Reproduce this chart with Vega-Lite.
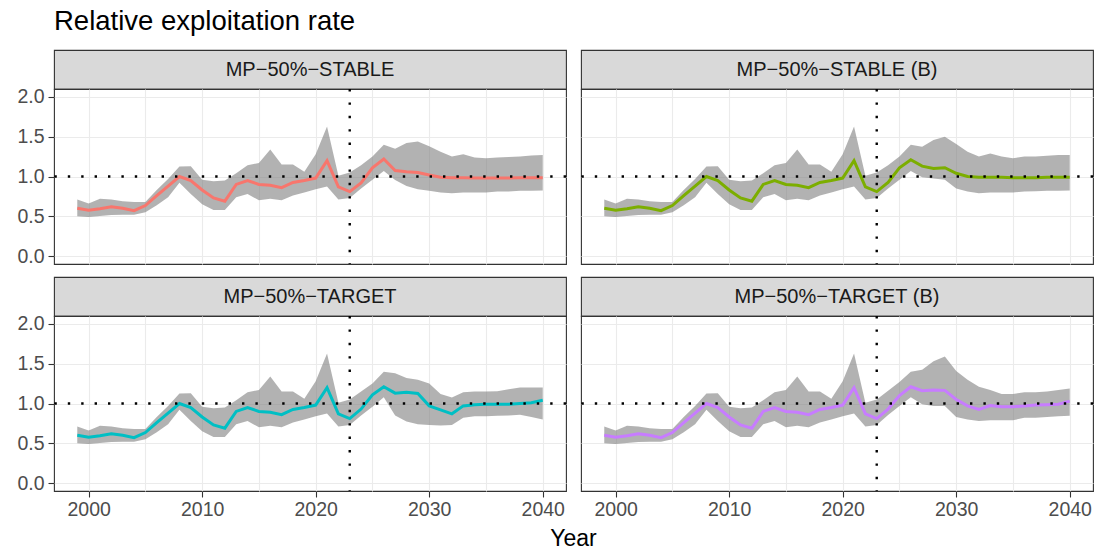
{
  "$schema": "https://vega.github.io/schema/vega-lite/v6.json",
  "padding": {"left": 16, "top": 7, "right": 7, "bottom": 4},
  "spacing": 9,
  "title": {"text": "Relative exploitation rate", "anchor": "start", "frame": "group", "fontSize": 27.5, "fontWeight": "normal", "color": "#000000", "font": "Liberation Sans", "offset": 14},
  "datasets": {
    "d": [
      {"p":"MP−50%−STABLE","year":1999,"med":0.60,"lo":0.50,"hi":0.71},
      {"p":"MP−50%−STABLE","year":2000,"med":0.575,"lo":0.49,"hi":0.66},
      {"p":"MP−50%−STABLE","year":2001,"med":0.595,"lo":0.505,"hi":0.72},
      {"p":"MP−50%−STABLE","year":2002,"med":0.62,"lo":0.515,"hi":0.71},
      {"p":"MP−50%−STABLE","year":2003,"med":0.60,"lo":0.52,"hi":0.69},
      {"p":"MP−50%−STABLE","year":2004,"med":0.57,"lo":0.52,"hi":0.68},
      {"p":"MP−50%−STABLE","year":2005,"med":0.635,"lo":0.55,"hi":0.68},
      {"p":"MP−50%−STABLE","year":2006,"med":0.76,"lo":0.64,"hi":0.83},
      {"p":"MP−50%−STABLE","year":2007,"med":0.88,"lo":0.74,"hi":0.97},
      {"p":"MP−50%−STABLE","year":2008,"med":1.00,"lo":0.92,"hi":1.125},
      {"p":"MP−50%−STABLE","year":2009,"med":0.95,"lo":0.78,"hi":1.13},
      {"p":"MP−50%−STABLE","year":2010,"med":0.83,"lo":0.65,"hi":0.96},
      {"p":"MP−50%−STABLE","year":2011,"med":0.73,"lo":0.58,"hi":0.94},
      {"p":"MP−50%−STABLE","year":2012,"med":0.69,"lo":0.58,"hi":0.95},
      {"p":"MP−50%−STABLE","year":2013,"med":0.90,"lo":0.74,"hi":1.04},
      {"p":"MP−50%−STABLE","year":2014,"med":0.95,"lo":0.78,"hi":1.14},
      {"p":"MP−50%−STABLE","year":2015,"med":0.90,"lo":0.70,"hi":1.17},
      {"p":"MP−50%−STABLE","year":2016,"med":0.89,"lo":0.72,"hi":1.34},
      {"p":"MP−50%−STABLE","year":2017,"med":0.86,"lo":0.70,"hi":1.15},
      {"p":"MP−50%−STABLE","year":2018,"med":0.925,"lo":0.76,"hi":1.15},
      {"p":"MP−50%−STABLE","year":2019,"med":0.95,"lo":0.80,"hi":1.06},
      {"p":"MP−50%−STABLE","year":2020,"med":0.98,"lo":0.84,"hi":1.28},
      {"p":"MP−50%−STABLE","year":2021,"med":1.20,"lo":0.875,"hi":1.63},
      {"p":"MP−50%−STABLE","year":2022,"med":0.87,"lo":0.71,"hi":1.01},
      {"p":"MP−50%−STABLE","year":2023,"med":0.81,"lo":0.73,"hi":1.05},
      {"p":"MP−50%−STABLE","year":2024,"med":0.92,"lo":0.85,"hi":1.14},
      {"p":"MP−50%−STABLE","year":2025,"med":1.11,"lo":0.96,"hi":1.25},
      {"p":"MP−50%−STABLE","year":2026,"med":1.22,"lo":1.07,"hi":1.40},
      {"p":"MP−50%−STABLE","year":2027,"med":1.075,"lo":0.955,"hi":1.35},
      {"p":"MP−50%−STABLE","year":2028,"med":1.06,"lo":0.88,"hi":1.42},
      {"p":"MP−50%−STABLE","year":2029,"med":1.05,"lo":0.84,"hi":1.44},
      {"p":"MP−50%−STABLE","year":2030,"med":1.02,"lo":0.82,"hi":1.38},
      {"p":"MP−50%−STABLE","year":2031,"med":0.99,"lo":0.80,"hi":1.31},
      {"p":"MP−50%−STABLE","year":2032,"med":0.985,"lo":0.79,"hi":1.25},
      {"p":"MP−50%−STABLE","year":2033,"med":0.985,"lo":0.80,"hi":1.28},
      {"p":"MP−50%−STABLE","year":2034,"med":0.98,"lo":0.80,"hi":1.24},
      {"p":"MP−50%−STABLE","year":2035,"med":0.98,"lo":0.80,"hi":1.23},
      {"p":"MP−50%−STABLE","year":2036,"med":0.98,"lo":0.81,"hi":1.24},
      {"p":"MP−50%−STABLE","year":2037,"med":0.98,"lo":0.81,"hi":1.245},
      {"p":"MP−50%−STABLE","year":2038,"med":0.985,"lo":0.82,"hi":1.25},
      {"p":"MP−50%−STABLE","year":2039,"med":0.985,"lo":0.82,"hi":1.265},
      {"p":"MP−50%−STABLE","year":2040,"med":0.985,"lo":0.825,"hi":1.27},

      {"p":"MP−50%−STABLE (B)","year":1999,"med":0.60,"lo":0.50,"hi":0.71},
      {"p":"MP−50%−STABLE (B)","year":2000,"med":0.575,"lo":0.49,"hi":0.66},
      {"p":"MP−50%−STABLE (B)","year":2001,"med":0.595,"lo":0.505,"hi":0.72},
      {"p":"MP−50%−STABLE (B)","year":2002,"med":0.62,"lo":0.515,"hi":0.71},
      {"p":"MP−50%−STABLE (B)","year":2003,"med":0.60,"lo":0.52,"hi":0.69},
      {"p":"MP−50%−STABLE (B)","year":2004,"med":0.57,"lo":0.52,"hi":0.68},
      {"p":"MP−50%−STABLE (B)","year":2005,"med":0.635,"lo":0.55,"hi":0.68},
      {"p":"MP−50%−STABLE (B)","year":2006,"med":0.76,"lo":0.64,"hi":0.83},
      {"p":"MP−50%−STABLE (B)","year":2007,"med":0.88,"lo":0.74,"hi":0.97},
      {"p":"MP−50%−STABLE (B)","year":2008,"med":1.00,"lo":0.92,"hi":1.125},
      {"p":"MP−50%−STABLE (B)","year":2009,"med":0.95,"lo":0.78,"hi":1.13},
      {"p":"MP−50%−STABLE (B)","year":2010,"med":0.83,"lo":0.65,"hi":0.96},
      {"p":"MP−50%−STABLE (B)","year":2011,"med":0.73,"lo":0.58,"hi":0.94},
      {"p":"MP−50%−STABLE (B)","year":2012,"med":0.69,"lo":0.58,"hi":0.95},
      {"p":"MP−50%−STABLE (B)","year":2013,"med":0.90,"lo":0.74,"hi":1.04},
      {"p":"MP−50%−STABLE (B)","year":2014,"med":0.95,"lo":0.78,"hi":1.14},
      {"p":"MP−50%−STABLE (B)","year":2015,"med":0.90,"lo":0.70,"hi":1.17},
      {"p":"MP−50%−STABLE (B)","year":2016,"med":0.89,"lo":0.72,"hi":1.34},
      {"p":"MP−50%−STABLE (B)","year":2017,"med":0.86,"lo":0.70,"hi":1.15},
      {"p":"MP−50%−STABLE (B)","year":2018,"med":0.925,"lo":0.76,"hi":1.15},
      {"p":"MP−50%−STABLE (B)","year":2019,"med":0.95,"lo":0.80,"hi":1.06},
      {"p":"MP−50%−STABLE (B)","year":2020,"med":0.98,"lo":0.84,"hi":1.28},
      {"p":"MP−50%−STABLE (B)","year":2021,"med":1.20,"lo":0.875,"hi":1.63},
      {"p":"MP−50%−STABLE (B)","year":2022,"med":0.87,"lo":0.71,"hi":1.01},
      {"p":"MP−50%−STABLE (B)","year":2023,"med":0.81,"lo":0.73,"hi":1.05},
      {"p":"MP−50%−STABLE (B)","year":2024,"med":0.925,"lo":0.85,"hi":1.14},
      {"p":"MP−50%−STABLE (B)","year":2025,"med":1.11,"lo":0.96,"hi":1.25},
      {"p":"MP−50%−STABLE (B)","year":2026,"med":1.21,"lo":1.07,"hi":1.40},
      {"p":"MP−50%−STABLE (B)","year":2027,"med":1.13,"lo":0.99,"hi":1.375},
      {"p":"MP−50%−STABLE (B)","year":2028,"med":1.10,"lo":0.975,"hi":1.46},
      {"p":"MP−50%−STABLE (B)","year":2029,"med":1.11,"lo":0.96,"hi":1.50},
      {"p":"MP−50%−STABLE (B)","year":2030,"med":1.04,"lo":0.85,"hi":1.41},
      {"p":"MP−50%−STABLE (B)","year":2031,"med":1.00,"lo":0.81,"hi":1.31},
      {"p":"MP−50%−STABLE (B)","year":2032,"med":0.99,"lo":0.79,"hi":1.25},
      {"p":"MP−50%−STABLE (B)","year":2033,"med":0.99,"lo":0.80,"hi":1.29},
      {"p":"MP−50%−STABLE (B)","year":2034,"med":0.99,"lo":0.80,"hi":1.25},
      {"p":"MP−50%−STABLE (B)","year":2035,"med":0.985,"lo":0.80,"hi":1.23},
      {"p":"MP−50%−STABLE (B)","year":2036,"med":0.985,"lo":0.81,"hi":1.25},
      {"p":"MP−50%−STABLE (B)","year":2037,"med":0.985,"lo":0.815,"hi":1.25},
      {"p":"MP−50%−STABLE (B)","year":2038,"med":0.99,"lo":0.82,"hi":1.26},
      {"p":"MP−50%−STABLE (B)","year":2039,"med":0.99,"lo":0.82,"hi":1.27},
      {"p":"MP−50%−STABLE (B)","year":2040,"med":0.99,"lo":0.825,"hi":1.27},

      {"p":"MP−50%−TARGET","year":1999,"med":0.60,"lo":0.50,"hi":0.71},
      {"p":"MP−50%−TARGET","year":2000,"med":0.575,"lo":0.49,"hi":0.66},
      {"p":"MP−50%−TARGET","year":2001,"med":0.595,"lo":0.505,"hi":0.72},
      {"p":"MP−50%−TARGET","year":2002,"med":0.62,"lo":0.515,"hi":0.71},
      {"p":"MP−50%−TARGET","year":2003,"med":0.60,"lo":0.52,"hi":0.69},
      {"p":"MP−50%−TARGET","year":2004,"med":0.57,"lo":0.52,"hi":0.68},
      {"p":"MP−50%−TARGET","year":2005,"med":0.635,"lo":0.55,"hi":0.68},
      {"p":"MP−50%−TARGET","year":2006,"med":0.76,"lo":0.64,"hi":0.83},
      {"p":"MP−50%−TARGET","year":2007,"med":0.88,"lo":0.74,"hi":0.97},
      {"p":"MP−50%−TARGET","year":2008,"med":1.00,"lo":0.92,"hi":1.125},
      {"p":"MP−50%−TARGET","year":2009,"med":0.95,"lo":0.78,"hi":1.13},
      {"p":"MP−50%−TARGET","year":2010,"med":0.83,"lo":0.65,"hi":0.96},
      {"p":"MP−50%−TARGET","year":2011,"med":0.73,"lo":0.58,"hi":0.94},
      {"p":"MP−50%−TARGET","year":2012,"med":0.69,"lo":0.58,"hi":0.95},
      {"p":"MP−50%−TARGET","year":2013,"med":0.90,"lo":0.74,"hi":1.04},
      {"p":"MP−50%−TARGET","year":2014,"med":0.95,"lo":0.78,"hi":1.14},
      {"p":"MP−50%−TARGET","year":2015,"med":0.90,"lo":0.70,"hi":1.17},
      {"p":"MP−50%−TARGET","year":2016,"med":0.89,"lo":0.72,"hi":1.34},
      {"p":"MP−50%−TARGET","year":2017,"med":0.86,"lo":0.70,"hi":1.15},
      {"p":"MP−50%−TARGET","year":2018,"med":0.925,"lo":0.76,"hi":1.15},
      {"p":"MP−50%−TARGET","year":2019,"med":0.95,"lo":0.80,"hi":1.06},
      {"p":"MP−50%−TARGET","year":2020,"med":0.98,"lo":0.84,"hi":1.28},
      {"p":"MP−50%−TARGET","year":2021,"med":1.20,"lo":0.875,"hi":1.63},
      {"p":"MP−50%−TARGET","year":2022,"med":0.87,"lo":0.71,"hi":1.01},
      {"p":"MP−50%−TARGET","year":2023,"med":0.81,"lo":0.73,"hi":1.05},
      {"p":"MP−50%−TARGET","year":2024,"med":0.93,"lo":0.85,"hi":1.15},
      {"p":"MP−50%−TARGET","year":2025,"med":1.11,"lo":0.96,"hi":1.25},
      {"p":"MP−50%−TARGET","year":2026,"med":1.21,"lo":1.08,"hi":1.40},
      {"p":"MP−50%−TARGET","year":2027,"med":1.13,"lo":0.85,"hi":1.38},
      {"p":"MP−50%−TARGET","year":2028,"med":1.14,"lo":0.775,"hi":1.32},
      {"p":"MP−50%−TARGET","year":2029,"med":1.125,"lo":0.74,"hi":1.30},
      {"p":"MP−50%−TARGET","year":2030,"med":0.97,"lo":0.73,"hi":1.25},
      {"p":"MP−50%−TARGET","year":2031,"med":0.92,"lo":0.725,"hi":1.12},
      {"p":"MP−50%−TARGET","year":2032,"med":0.87,"lo":0.73,"hi":1.075},
      {"p":"MP−50%−TARGET","year":2033,"med":0.97,"lo":0.82,"hi":1.14},
      {"p":"MP−50%−TARGET","year":2034,"med":0.985,"lo":0.84,"hi":1.15},
      {"p":"MP−50%−TARGET","year":2035,"med":0.99,"lo":0.84,"hi":1.15},
      {"p":"MP−50%−TARGET","year":2036,"med":0.99,"lo":0.845,"hi":1.155},
      {"p":"MP−50%−TARGET","year":2037,"med":0.99,"lo":0.85,"hi":1.18},
      {"p":"MP−50%−TARGET","year":2038,"med":1.00,"lo":0.86,"hi":1.20},
      {"p":"MP−50%−TARGET","year":2039,"med":1.01,"lo":0.83,"hi":1.20},
      {"p":"MP−50%−TARGET","year":2040,"med":1.04,"lo":0.80,"hi":1.20},

      {"p":"MP−50%−TARGET (B)","year":1999,"med":0.60,"lo":0.50,"hi":0.71},
      {"p":"MP−50%−TARGET (B)","year":2000,"med":0.575,"lo":0.49,"hi":0.66},
      {"p":"MP−50%−TARGET (B)","year":2001,"med":0.595,"lo":0.505,"hi":0.72},
      {"p":"MP−50%−TARGET (B)","year":2002,"med":0.62,"lo":0.515,"hi":0.71},
      {"p":"MP−50%−TARGET (B)","year":2003,"med":0.60,"lo":0.52,"hi":0.69},
      {"p":"MP−50%−TARGET (B)","year":2004,"med":0.57,"lo":0.52,"hi":0.68},
      {"p":"MP−50%−TARGET (B)","year":2005,"med":0.635,"lo":0.55,"hi":0.68},
      {"p":"MP−50%−TARGET (B)","year":2006,"med":0.76,"lo":0.64,"hi":0.83},
      {"p":"MP−50%−TARGET (B)","year":2007,"med":0.88,"lo":0.74,"hi":0.97},
      {"p":"MP−50%−TARGET (B)","year":2008,"med":1.00,"lo":0.92,"hi":1.125},
      {"p":"MP−50%−TARGET (B)","year":2009,"med":0.95,"lo":0.78,"hi":1.13},
      {"p":"MP−50%−TARGET (B)","year":2010,"med":0.83,"lo":0.65,"hi":0.96},
      {"p":"MP−50%−TARGET (B)","year":2011,"med":0.73,"lo":0.58,"hi":0.94},
      {"p":"MP−50%−TARGET (B)","year":2012,"med":0.69,"lo":0.58,"hi":0.95},
      {"p":"MP−50%−TARGET (B)","year":2013,"med":0.90,"lo":0.74,"hi":1.04},
      {"p":"MP−50%−TARGET (B)","year":2014,"med":0.95,"lo":0.78,"hi":1.14},
      {"p":"MP−50%−TARGET (B)","year":2015,"med":0.90,"lo":0.70,"hi":1.17},
      {"p":"MP−50%−TARGET (B)","year":2016,"med":0.89,"lo":0.72,"hi":1.34},
      {"p":"MP−50%−TARGET (B)","year":2017,"med":0.86,"lo":0.70,"hi":1.15},
      {"p":"MP−50%−TARGET (B)","year":2018,"med":0.925,"lo":0.76,"hi":1.15},
      {"p":"MP−50%−TARGET (B)","year":2019,"med":0.95,"lo":0.80,"hi":1.06},
      {"p":"MP−50%−TARGET (B)","year":2020,"med":0.98,"lo":0.84,"hi":1.28},
      {"p":"MP−50%−TARGET (B)","year":2021,"med":1.20,"lo":0.875,"hi":1.63},
      {"p":"MP−50%−TARGET (B)","year":2022,"med":0.87,"lo":0.71,"hi":1.01},
      {"p":"MP−50%−TARGET (B)","year":2023,"med":0.81,"lo":0.73,"hi":1.05},
      {"p":"MP−50%−TARGET (B)","year":2024,"med":0.93,"lo":0.855,"hi":1.16},
      {"p":"MP−50%−TARGET (B)","year":2025,"med":1.10,"lo":0.97,"hi":1.27},
      {"p":"MP−50%−TARGET (B)","year":2026,"med":1.21,"lo":1.08,"hi":1.40},
      {"p":"MP−50%−TARGET (B)","year":2027,"med":1.16,"lo":0.99,"hi":1.425},
      {"p":"MP−50%−TARGET (B)","year":2028,"med":1.17,"lo":0.97,"hi":1.53},
      {"p":"MP−50%−TARGET (B)","year":2029,"med":1.165,"lo":0.97,"hi":1.59},
      {"p":"MP−50%−TARGET (B)","year":2030,"med":1.05,"lo":0.83,"hi":1.41},
      {"p":"MP−50%−TARGET (B)","year":2031,"med":0.97,"lo":0.80,"hi":1.30},
      {"p":"MP−50%−TARGET (B)","year":2032,"med":0.925,"lo":0.78,"hi":1.21},
      {"p":"MP−50%−TARGET (B)","year":2033,"med":0.975,"lo":0.79,"hi":1.17},
      {"p":"MP−50%−TARGET (B)","year":2034,"med":0.96,"lo":0.79,"hi":1.12},
      {"p":"MP−50%−TARGET (B)","year":2035,"med":0.96,"lo":0.79,"hi":1.12},
      {"p":"MP−50%−TARGET (B)","year":2036,"med":0.97,"lo":0.82,"hi":1.14},
      {"p":"MP−50%−TARGET (B)","year":2037,"med":0.98,"lo":0.82,"hi":1.14},
      {"p":"MP−50%−TARGET (B)","year":2038,"med":0.985,"lo":0.83,"hi":1.15},
      {"p":"MP−50%−TARGET (B)","year":2039,"med":0.99,"lo":0.84,"hi":1.17},
      {"p":"MP−50%−TARGET (B)","year":2040,"med":1.03,"lo":0.845,"hi":1.19}
    ]
  },
  "vconcat": [
    {
      "spacing": 11,
      "hconcat": [
        {
          "spacing": 0,
          "bounds": "flush",
          "vconcat": [
            {"width": 512, "height": 39, "view": {"fill": "#d9d9d9", "stroke": "#333333", "strokeWidth": 1.1},
             "data": {"values": [{"label": "MP−50%−STABLE"}]},
             "mark": {"type": "text", "fontSize": 20, "color": "#1a1a1a", "font": "Liberation Sans"},
             "encoding": {"text": {"field": "label"}}},
            {"width": 512, "height": 175, "view": {"stroke": "#333333", "strokeWidth": 1.1},
             "data": {"name": "d"},
             "layer": [
               {"transform": [{"filter": "datum.p == 'MP−50%−STABLE'"}],
                "mark": {"type": "area", "color": "#7f7f7f", "opacity": 0.6},
                "encoding": {
                  "x": {"field": "year", "type": "quantitative", "scale": {"domain": [1996.95, 2042.05], "nice": false, "zero": false},
                        "axis": {"values": [2000,2005,2010,2015,2020,2025,2030,2035,2040], "labels": false, "ticks": false, "domain": false, "title": null, "grid": true}},
                  "y": {"field": "lo", "type": "quantitative", "scale": {"domain": [-0.1, 2.1], "nice": false, "zero": false},
                        "axis": {"values": [0,0.25,0.5,0.75,1,1.25,1.5,1.75,2], "title": null, "domain": false, "grid": true, "labelOverlap": false,
                                 "labelExpr": "datum.value % 0.5 == 0 ? format(datum.value, '.1f') : ''",
                                 "tickColor": {"condition": {"test": "datum.value % 0.5 == 0", "value": "#333333"}, "value": "transparent"},
                                 "tickSize": 6, "labelPadding": 4, "labelFontSize": 19.5, "labelColor": "#4d4d4d"}},
                  "y2": {"field": "hi"}
                }},
               {"transform": [{"filter": "datum.p == 'MP−50%−STABLE'"}],
                "mark": {"type": "line", "color": "#F8766D", "strokeWidth": 3},
                "encoding": {"x": {"field": "year", "type": "quantitative"}, "y": {"field": "med", "type": "quantitative"}}},
               {"data": {"values": [{"ref": 1}]}, "mark": {"type": "rule", "color": "#000000", "strokeWidth": 2.4, "strokeDash": [2.4, 11]},
                "encoding": {"y": {"field": "ref", "type": "quantitative"}}},
               {"data": {"values": [{"yr": 2023}]}, "mark": {"type": "rule", "color": "#000000", "strokeWidth": 2.4, "strokeDash": [2.4, 11]},
                "encoding": {"x": {"field": "yr", "type": "quantitative"}}}
             ]}
          ]
        },
        {
          "spacing": 0,
          "bounds": "flush",
          "vconcat": [
            {"width": 512, "height": 39, "view": {"fill": "#d9d9d9", "stroke": "#333333", "strokeWidth": 1.1},
             "data": {"values": [{"label": "MP−50%−STABLE (B)"}]},
             "mark": {"type": "text", "fontSize": 20, "color": "#1a1a1a", "font": "Liberation Sans"},
             "encoding": {"text": {"field": "label"}}},
            {"width": 512, "height": 175, "view": {"stroke": "#333333", "strokeWidth": 1.1},
             "data": {"name": "d"},
             "layer": [
               {"transform": [{"filter": "datum.p == 'MP−50%−STABLE (B)'"}],
                "mark": {"type": "area", "color": "#7f7f7f", "opacity": 0.6},
                "encoding": {
                  "x": {"field": "year", "type": "quantitative", "scale": {"domain": [1996.95, 2042.05], "nice": false, "zero": false},
                        "axis": {"values": [2000,2005,2010,2015,2020,2025,2030,2035,2040], "labels": false, "ticks": false, "domain": false, "title": null, "grid": true}},
                  "y": {"field": "lo", "type": "quantitative", "scale": {"domain": [-0.1, 2.1], "nice": false, "zero": false},
                        "axis": {"values": [0,0.25,0.5,0.75,1,1.25,1.5,1.75,2], "labels": false, "ticks": false, "domain": false, "title": null, "grid": true}},
                  "y2": {"field": "hi"}
                }},
               {"transform": [{"filter": "datum.p == 'MP−50%−STABLE (B)'"}],
                "mark": {"type": "line", "color": "#7CAE00", "strokeWidth": 3},
                "encoding": {"x": {"field": "year", "type": "quantitative"}, "y": {"field": "med", "type": "quantitative"}}},
               {"data": {"values": [{"ref": 1}]}, "mark": {"type": "rule", "color": "#000000", "strokeWidth": 2.4, "strokeDash": [2.4, 11]},
                "encoding": {"y": {"field": "ref", "type": "quantitative"}}},
               {"data": {"values": [{"yr": 2023}]}, "mark": {"type": "rule", "color": "#000000", "strokeWidth": 2.4, "strokeDash": [2.4, 11]},
                "encoding": {"x": {"field": "yr", "type": "quantitative"}}}
             ]}
          ]
        }
      ]
    },
    {
      "spacing": 11,
      "title": {"text": "Year", "orient": "bottom", "anchor": "middle", "frame": "bounds", "dx": 18, "fontSize": 23, "fontWeight": "normal", "color": "#000000", "font": "Liberation Sans", "offset": 9},
      "hconcat": [
        {
          "spacing": 0,
          "bounds": "flush",
          "vconcat": [
            {"width": 512, "height": 39, "view": {"fill": "#d9d9d9", "stroke": "#333333", "strokeWidth": 1.1},
             "data": {"values": [{"label": "MP−50%−TARGET"}]},
             "mark": {"type": "text", "fontSize": 20, "color": "#1a1a1a", "font": "Liberation Sans"},
             "encoding": {"text": {"field": "label"}}},
            {"width": 512, "height": 175, "view": {"stroke": "#333333", "strokeWidth": 1.1},
             "data": {"name": "d"},
             "layer": [
               {"transform": [{"filter": "datum.p == 'MP−50%−TARGET'"}],
                "mark": {"type": "area", "color": "#7f7f7f", "opacity": 0.6},
                "encoding": {
                  "x": {"field": "year", "type": "quantitative", "scale": {"domain": [1996.95, 2042.05], "nice": false, "zero": false},
                        "axis": {"values": [2000,2005,2010,2015,2020,2025,2030,2035,2040], "format": "d", "title": null, "domain": false, "grid": true, "labelOverlap": false, "labelFlush": false,
                                 "labelExpr": "datum.value % 10 == 0 ? datum.label : ''",
                                 "tickColor": {"condition": {"test": "datum.value % 10 == 0", "value": "#333333"}, "value": "transparent"},
                                 "tickSize": 6, "labelPadding": 3, "labelFontSize": 19.5, "labelColor": "#4d4d4d"}},
                  "y": {"field": "lo", "type": "quantitative", "scale": {"domain": [-0.1, 2.1], "nice": false, "zero": false},
                        "axis": {"values": [0,0.25,0.5,0.75,1,1.25,1.5,1.75,2], "title": null, "domain": false, "grid": true, "labelOverlap": false,
                                 "labelExpr": "datum.value % 0.5 == 0 ? format(datum.value, '.1f') : ''",
                                 "tickColor": {"condition": {"test": "datum.value % 0.5 == 0", "value": "#333333"}, "value": "transparent"},
                                 "tickSize": 6, "labelPadding": 4, "labelFontSize": 19.5, "labelColor": "#4d4d4d"}},
                  "y2": {"field": "hi"}
                }},
               {"transform": [{"filter": "datum.p == 'MP−50%−TARGET'"}],
                "mark": {"type": "line", "color": "#00BFC4", "strokeWidth": 3},
                "encoding": {"x": {"field": "year", "type": "quantitative"}, "y": {"field": "med", "type": "quantitative"}}},
               {"data": {"values": [{"ref": 1}]}, "mark": {"type": "rule", "color": "#000000", "strokeWidth": 2.4, "strokeDash": [2.4, 11]},
                "encoding": {"y": {"field": "ref", "type": "quantitative"}}},
               {"data": {"values": [{"yr": 2023}]}, "mark": {"type": "rule", "color": "#000000", "strokeWidth": 2.4, "strokeDash": [2.4, 11]},
                "encoding": {"x": {"field": "yr", "type": "quantitative"}}}
             ]}
          ]
        },
        {
          "spacing": 0,
          "bounds": "flush",
          "vconcat": [
            {"width": 512, "height": 39, "view": {"fill": "#d9d9d9", "stroke": "#333333", "strokeWidth": 1.1},
             "data": {"values": [{"label": "MP−50%−TARGET (B)"}]},
             "mark": {"type": "text", "fontSize": 20, "color": "#1a1a1a", "font": "Liberation Sans"},
             "encoding": {"text": {"field": "label"}}},
            {"width": 512, "height": 175, "view": {"stroke": "#333333", "strokeWidth": 1.1},
             "data": {"name": "d"},
             "layer": [
               {"transform": [{"filter": "datum.p == 'MP−50%−TARGET (B)'"}],
                "mark": {"type": "area", "color": "#7f7f7f", "opacity": 0.6},
                "encoding": {
                  "x": {"field": "year", "type": "quantitative", "scale": {"domain": [1996.95, 2042.05], "nice": false, "zero": false},
                        "axis": {"values": [2000,2005,2010,2015,2020,2025,2030,2035,2040], "format": "d", "title": null, "domain": false, "grid": true, "labelOverlap": false, "labelFlush": false,
                                 "labelExpr": "datum.value % 10 == 0 ? datum.label : ''",
                                 "tickColor": {"condition": {"test": "datum.value % 10 == 0", "value": "#333333"}, "value": "transparent"},
                                 "tickSize": 6, "labelPadding": 3, "labelFontSize": 19.5, "labelColor": "#4d4d4d"}},
                  "y": {"field": "lo", "type": "quantitative", "scale": {"domain": [-0.1, 2.1], "nice": false, "zero": false},
                        "axis": {"values": [0,0.25,0.5,0.75,1,1.25,1.5,1.75,2], "labels": false, "ticks": false, "domain": false, "title": null, "grid": true}},
                  "y2": {"field": "hi"}
                }},
               {"transform": [{"filter": "datum.p == 'MP−50%−TARGET (B)'"}],
                "mark": {"type": "line", "color": "#C77CFF", "strokeWidth": 3},
                "encoding": {"x": {"field": "year", "type": "quantitative"}, "y": {"field": "med", "type": "quantitative"}}},
               {"data": {"values": [{"ref": 1}]}, "mark": {"type": "rule", "color": "#000000", "strokeWidth": 2.4, "strokeDash": [2.4, 11]},
                "encoding": {"y": {"field": "ref", "type": "quantitative"}}},
               {"data": {"values": [{"yr": 2023}]}, "mark": {"type": "rule", "color": "#000000", "strokeWidth": 2.4, "strokeDash": [2.4, 11]},
                "encoding": {"x": {"field": "yr", "type": "quantitative"}}}
             ]}
          ]
        }
      ]
    }
  ],
  "config": {
    "font": "Liberation Sans",
    "axis": {"gridColor": "#ebebeb", "gridWidth": 1.1, "tickWidth": 1.1, "labelFont": "Liberation Sans", "titleFont": "Liberation Sans"},
    "view": {"stroke": "#333333"}
  }
}
